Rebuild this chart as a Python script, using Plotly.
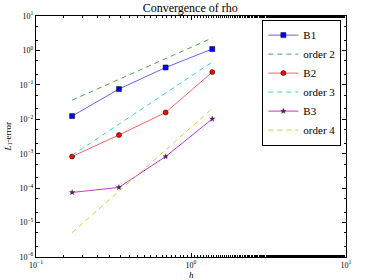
import plotly.graph_objects as go

h = [0.171, 0.343, 0.686, 1.371]
b1 = [0.0124, 0.0755, 0.32, 1.1]
order2 = [0.036, 0.144, 0.576, 2.3]
b2 = [8.3e-4, 3.5e-3, 0.0158, 0.235]
order3 = [9.0e-4, 7.2e-3, 0.0576, 0.46]
b3 = [7.5e-5, 1.05e-4, 8.3e-4, 0.0102]
order4 = [5.1e-6, 8.2e-5, 1.3e-3, 0.0205]

xtickvals = [0.1, 1, 10]
xticktext = ["10<sup>−1</sup>", "10<sup>0</sup>", "10<sup>1</sup>"]
ytickvals = [1e-6, 1e-5, 1e-4, 1e-3, 1e-2, 1e-1, 1, 10]
yticktext = ["10<sup>−6</sup>", "10<sup>−5</sup>", "10<sup>−4</sup>", "10<sup>−3</sup>",
             "10<sup>−2</sup>", "10<sup>−1</sup>", "10<sup>0</sup>", "10<sup>1</sup>"]

FONT = "Liberation Serif"

fig = go.Figure()
fig.add_trace(go.Scatter(x=h, y=b1, name="B1", mode="lines+markers",
                         line=dict(color="rgba(60,60,255,0.8)", width=1),
                         marker=dict(symbol="square", size=5, color="#0000ff",
                                     line=dict(color="black", width=0.5))))
fig.add_trace(go.Scatter(x=h, y=order2, name="order 2", mode="lines",
                         line=dict(color="rgba(0,128,0,0.7)", width=1, dash="5px,4px")))
fig.add_trace(go.Scatter(x=h, y=b2, name="B2", mode="lines+markers",
                         line=dict(color="rgba(255,60,60,0.8)", width=1),
                         marker=dict(symbol="circle", size=5, color="#ff0000",
                                     line=dict(color="black", width=0.5))))
fig.add_trace(go.Scatter(x=h, y=order3, name="order 3", mode="lines",
                         line=dict(color="rgba(0,191,191,0.75)", width=1, dash="5px,4px")))
fig.add_trace(go.Scatter(x=h, y=b3, name="B3", mode="lines+markers",
                         line=dict(color="rgba(191,0,191,0.8)", width=1),
                         marker=dict(symbol="star", size=4, color="#701070",
                                     line=dict(color="black", width=0.3))))
fig.add_trace(go.Scatter(x=h, y=order4, name="order 4", mode="lines",
                         line=dict(color="rgba(191,191,0,0.75)", width=1, dash="5px,4px")))

axis_common = dict(type="log", showgrid=False, zeroline=False, showline=True,
                   linecolor="black", linewidth=1, mirror="ticks", ticks="inside",
                   ticklen=4, tickcolor="black", automargin=False,
                   tickfont=dict(family=FONT, size=8, color="black"),
                   minor=dict(ticks="inside", ticklen=2, tickcolor="black", showgrid=False))

fig.update_xaxes(range=[-1, 1], tickvals=xtickvals, ticktext=xticktext, **axis_common)
fig.update_yaxes(range=[-6, 1], tickvals=ytickvals, ticktext=yticktext, **axis_common)

fig.add_annotation(text="<i>h</i>", xref="paper", yref="paper", x=0.5, y=-0.075,
                   xanchor="center", yanchor="middle", showarrow=False,
                   font=dict(family=FONT, size=9, color="black"))
fig.add_annotation(text="<i>L</i><sub>1</sub>-error", xref="paper", yref="paper",
                   x=-0.09, y=0.5, xanchor="center", yanchor="middle", showarrow=False,
                   textangle=-90, font=dict(family=FONT, size=9, color="black"))

fig.update_layout(
    width=373, height=280,
    margin=dict(l=36, r=27, t=16, b=23),
    paper_bgcolor="white", plot_bgcolor="white",
    title=dict(text="Convergence of rho", x=0.51, xanchor="center", y=0.972, yanchor="middle",
               font=dict(family=FONT, size=12, color="black")),
    legend=dict(x=0.985, y=0.985, xanchor="right", yanchor="top",
                bordercolor="black", borderwidth=1, bgcolor="white",
                font=dict(family=FONT, size=11, color="black"),
                itemwidth=30, tracegroupgap=0),
    showlegend=True,
)

fig.write_html("out.html", config={"displayModeBar": False},
               post_script="document.body.style.margin='0';")
